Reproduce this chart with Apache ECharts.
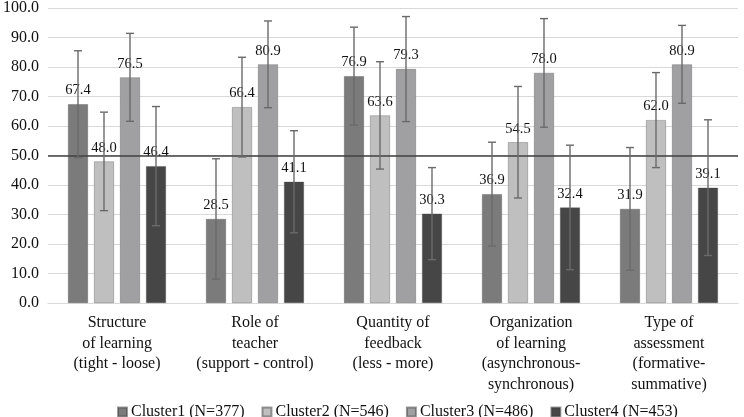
<!DOCTYPE html>
<html>
<head>
<meta charset="utf-8">
<script src="https://cdn.jsdelivr.net/npm/echarts@6/dist/echarts.min.js"></script>
<style>html,body{margin:0;padding:0;background:#fff}#c{width:744px;height:417px}</style>
</head>
<body>
<div id="c"></div>
<script>
var categories = [
  "Structure\nof learning\n(tight - loose)",
  "Role of\nteacher\n(support - control)",
  "Quantity of\nfeedback\n(less - more)",
  "Organization\nof learning\n(asynchronous-\nsynchronous)",
  "Type of\nassessment\n(formative-\nsummative)"
];
var seriesNames = ["Cluster1 (N=377)", "Cluster2 (N=546)", "Cluster3 (N=486)", "Cluster4 (N=453)"];
var cluster1 = [67.4, 28.5, 76.9, 36.9, 31.9];
var cluster2 = [48.0, 66.4, 63.6, 54.5, 62.0];
var cluster3 = [76.5, 80.9, 79.3, 78.0, 80.9];
var cluster4 = [46.4, 41.1, 30.3, 32.4, 39.1];
var sd1 = [18.1, 20.4, 16.6, 17.6, 20.8];
var sd2 = [16.7, 16.9, 18.2, 18.9, 16.1];
var sd3 = [14.9, 14.7, 17.8, 18.4, 13.2];
var sd4 = [20.2, 17.3, 15.6, 21.1, 23.0];
var referenceValue = 50;

var values = [cluster1, cluster2, cluster3, cluster4];
var sds = [sd1, sd2, sd3, sd4];
var colors = ["#7b7b7b", "#bfbfbf", "#a0a0a2", "#464646"];
var BAR_W = 20, GAP = 6;
var font = "'Liberation Serif', 'Times New Roman', serif";

var series = [];
values.forEach(function (vals, i) {
  var s = {
    name: seriesNames[i],
    type: 'bar',
    data: vals,
    barWidth: BAR_W,
    barGap: (GAP / BAR_W * 100) + '%',
    itemStyle: { color: colors[i], borderColor: 'rgba(60,60,60,0.5)', borderWidth: 0.6 },
    label: {
      show: true, position: 'top', distance: 6,
      fontFamily: font, fontSize: 14.5, color: '#111',
      formatter: function (p) { return p.value.toFixed(1); }
    },
    z: 2
  };
  if (i === 0) {
    s.markLine = {
      silent: true, symbol: 'none',
      lineStyle: { color: '#404040', width: 1.6, type: 'solid' },
      label: { show: false },
      data: [{ yAxis: referenceValue }]
    };
  }
  series.push(s);
});

values.forEach(function (vals, i) {
  var offset = (i - 1.5) * (BAR_W + GAP);
  series.push({
    type: 'custom',
    name: seriesNames[i] + ' err',
    z: 5,
    silent: true,
    data: vals.map(function (v, k) { return [k, v - sds[i][k], v + sds[i][k]]; }),
    renderItem: function (params, api) {
      var top = api.coord([api.value(0), api.value(2)]);
      var bot = api.coord([api.value(0), api.value(1)]);
      var x = top[0] + offset;
      var cap = 4;
      var st = { stroke: '#6a6a6a', lineWidth: 1.4 };
      return {
        type: 'group',
        children: [
          { type: 'line', shape: { x1: x, y1: top[1], x2: x, y2: bot[1] }, style: st },
          { type: 'line', shape: { x1: x - cap, y1: top[1], x2: x + cap, y2: top[1] }, style: st },
          { type: 'line', shape: { x1: x - cap, y1: bot[1], x2: x + cap, y2: bot[1] }, style: st }
        ]
      };
    },
    encode: { x: 0, y: [1, 2] }
  });
});

var chart = echarts.init(document.getElementById('c'));
chart.setOption({
  animation: false,
  backgroundColor: '#fff',
  textStyle: { fontFamily: font },
  grid: { left: 45, right: 6, top: 6, bottom: 114 },
  legend: {
    data: seriesNames,
    top: 399,
    left: 112,
    itemWidth: 9, itemHeight: 9, itemGap: 17,
    icon: 'rect',
    textStyle: { fontFamily: font, fontSize: 16, color: '#111', padding: [0, 0, 0, -1] }
  },
  xAxis: {
    type: 'category',
    data: categories,
    axisTick: { show: false },
    axisLine: { lineStyle: { color: '#d9d9d9', width: 1.2 } },
    axisLabel: { fontFamily: font, fontSize: 16, color: '#111', lineHeight: 20.5, margin: 10, interval: 0 }
  },
  yAxis: {
    type: 'value', min: 0, max: 100, interval: 10,
    axisLine: { show: false }, axisTick: { show: false },
    splitLine: { lineStyle: { color: '#d9d9d9', width: 1.2 } },
    axisLabel: { fontFamily: font, fontSize: 16, color: '#111', margin: 9,
      formatter: function (v) { return v.toFixed(1); } }
  },
  series: series
});
</script>
</body>
</html>
